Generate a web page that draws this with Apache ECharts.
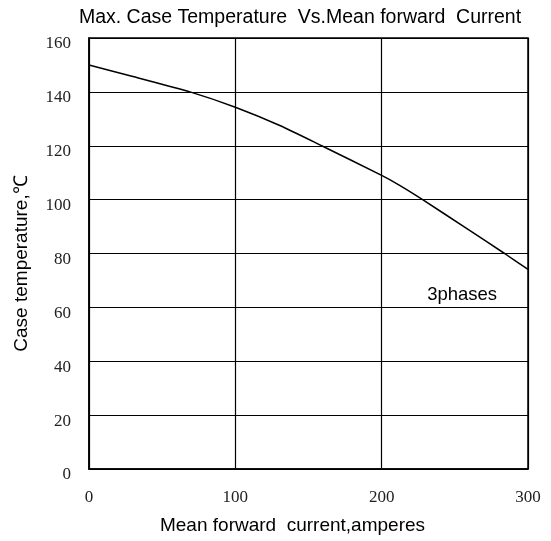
<!DOCTYPE html>
<html>
<head>
<meta charset="utf-8">
<script src="https://cdn.jsdelivr.net/npm/echarts@6/dist/echarts.min.js"></script>
<style>html,body{margin:0;padding:0;background:#fff;}#c{width:551px;height:541px;}</style>
</head>
<body>
<div id="c"></div>
<script>
var current = [0, 30, 69, 100, 130, 159, 200, 212, 228, 258, 284, 300];
var temperature = [150, 145.7, 140, 134.3, 127.6, 120, 109, 105.4, 100, 89.3, 80, 74.1];
var xTicks = [0, 100, 200, 300];
var yTicks = [0, 20, 40, 60, 80, 100, 120, 140, 160];
var annotation = {text: '3phases', x: 255, y: 64.6};

var chart = echarts.init(document.getElementById('c'));
var serif = '"Liberation Serif", "DejaVu Serif", serif';
var sans = '"Liberation Sans", Arial, sans-serif';
chart.setOption({
  animation: false,
  title: {
    text: 'Max. Case Temperature  Vs.Mean forward  Current',
    left: 295, top: 3, textAlign: 'center',
    textStyle: {fontFamily: sans, fontSize: 19.5, fontWeight: 'normal', color: '#000'}
  },
  grid: {left: 89, right: 23, top: 38, bottom: 72, show: true, borderColor: '#000', borderWidth: 1.5},
  xAxis: {
    type: 'value', min: xTicks[0], max: xTicks[xTicks.length - 1], interval: 100,
    name: 'Mean forward  current,amperes', nameLocation: 'middle', nameGap: 47,
    nameTextStyle: {fontFamily: sans, fontSize: 19, color: '#000', padding: [0, 32, 0, 0]},
    axisLine: {show: true, lineStyle: {color: '#000', width: 1.5}},
    axisTick: {show: false},
    axisLabel: {fontFamily: serif, fontSize: 17, color: '#222', margin: 20},
    splitLine: {show: true, lineStyle: {color: '#000', width: 1.2}}
  },
  yAxis: {
    type: 'value', min: yTicks[0], max: yTicks[yTicks.length - 1], interval: 20,
    name: 'Case temperature,\u2103', nameLocation: 'middle', nameGap: 58,
    nameTextStyle: {fontFamily: sans, fontSize: 19, color: '#000', padding: [0, 20, 0, 0]},
    axisLine: {show: true, lineStyle: {color: '#000', width: 1.5}},
    axisTick: {show: false},
    axisLabel: {fontFamily: serif, fontSize: 17, color: '#222', margin: 18, verticalAlign: 'top', lineHeight: 12},
    splitLine: {show: true, lineStyle: {color: '#000', width: 1.2}}
  },
  series: [{
    type: 'line', smooth: 0.25, symbol: 'none',
    data: current.map(function (c, i) { return [c, temperature[i]]; }),
    lineStyle: {color: '#000', width: 1.5},
    markPoint: {
      symbol: 'circle', symbolSize: 0,
      data: [{coord: [annotation.x, annotation.y], value: annotation.text}],
      label: {show: true, formatter: annotation.text, fontFamily: sans, fontSize: 18.5, color: '#000'}
    }
  }]
});
</script>
</body>
</html>
